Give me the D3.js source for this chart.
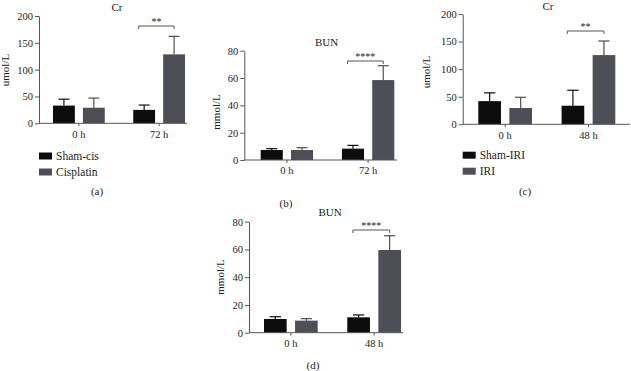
<!DOCTYPE html>
<html>
<head>
<meta charset="utf-8">
<script src="https://cdn.jsdelivr.net/npm/d3@7"></script>
<style>
  body { margin: 0; background: #fff; }
  svg text { font-family: "Liberation Serif", "DejaVu Serif", serif; fill: #222; }
  .axis path, .axis line { stroke: #555; }
</style>
</head>
<body>
<svg id="chart" width="631" height="371"></svg>
<script>
// Data (mean and upper error)
const cisGroups = ["0 h", "72 h"];
const iriGroups = ["0 h", "48 h"];

const crShamCis = [33, 25];
const crShamCisErr = [12, 9];
const crCisplatin = [29, 128.5];
const crCisplatinErr = [18, 33.5];

const bunShamCis = [7.3, 8.3];
const bunShamCisErr = [1, 2.4];
const bunCisplatin = [7.3, 58.5];
const bunCisplatinErr = [1.7, 10.5];

const crShamIri = [42, 33.7];
const crShamIriErr = [15, 28];
const crIri = [29.5, 125.5];
const crIriErr = [19.5, 25.5];

const bunShamIri = [9.9, 11.1];
const bunShamIriErr = [1.6, 1.7];
const bunIri = [8.7, 59.6];
const bunIriErr = [1.4, 10.3];

const crTicks = [0, 50, 100, 150, 200];
const bunTicks = [0, 20, 40, 60, 80];

const colors = ["#0c0c0c", "#4e4f56"];
const svg = d3.select("#chart");

// Panel layout: axis position, bar span and text spots
const panels = [
  { title: "Cr", yLabel: "umol/L", groups: cisGroups, ticks: crTicks, max: 200,
    series: [[crShamCis, crShamCisErr], [crCisplatin, crCisplatinErr]],
    axisX: 39, axisEnd: 187, bars: [53, 185], y0: 123.3, yTop: 16,
    titleX: 117, titleY: 11, yLabelX: 9, yLabelY: 70, stars: "**", bracketY: 26,
    legend: ["Sham-cis", "Cisplatin"], legendY: 152.5, tag: "(a)", tagX: 97, tagY: 195 },
  { title: "BUN", yLabel: "mmol/L", groups: cisGroups, ticks: bunTicks, max: 80,
    series: [[bunShamCis, bunShamCisErr], [bunCisplatin, bunCisplatinErr]],
    axisX: 244.3, axisEnd: 397, bars: [260.7, 394.3], y0: 160, yTop: 50.7,
    titleX: 326.5, titleY: 46, yLabelX: 220, yLabelY: 112, stars: "****", bracketY: 61,
    legend: null, tag: "(b)", tagX: 286, tagY: 207 },
  { title: "Cr", yLabel: "umol/L", groups: iriGroups, ticks: crTicks, max: 200,
    series: [[crShamIri, crShamIriErr], [crIri, crIriErr]],
    axisX: 462.7, axisEnd: 630, bars: [478.3, 615.3], y0: 124.3, yTop: 14,
    titleX: 548, titleY: 10, yLabelX: 430, yLabelY: 72, stars: "**", bracketY: 31,
    legend: ["Sham-IRI", "IRI"], legendY: 151.7, tag: "(c)", tagX: 525, tagY: 195 },
  { title: "BUN", yLabel: "mmol/L", groups: iriGroups, ticks: bunTicks, max: 80,
    series: [[bunShamIri, bunShamIriErr], [bunIri, bunIriErr]],
    axisX: 249, axisEnd: 403, bars: [264, 401], y0: 332.7, yTop: 221.7,
    titleX: 330, titleY: 216, yLabelX: 224, yLabelY: 277, stars: "****", bracketY: 230,
    legend: null, tag: "(d)", tagX: 313, tagY: 369 }
];

panels.forEach(p => {
  const g = svg.append("g");
  const y = d3.scaleLinear().domain([0, p.max]).range([p.y0, p.yTop]);
  const x = d3.scaleBand().domain(p.groups).range(p.bars).paddingInner(0.355).paddingOuter(0);
  const xs = d3.scaleBand().domain([0, 1]).range([0, x.bandwidth()]).paddingInner(0.27);

  // bars and error whiskers
  p.series.forEach(([vals, errs], si) => {
    p.groups.forEach((grp, gi) => {
      const bx = x(grp) + xs(si);
      const bw = xs.bandwidth();
      const cx = bx + bw / 2;
      const top = y(vals[gi] + errs[gi]);
      g.append("line").attr("x1", cx).attr("x2", cx)
        .attr("y1", y(vals[gi])).attr("y2", top)
        .attr("stroke", colors[si]).attr("stroke-width", 1.2);
      g.append("line").attr("x1", cx - bw / 4).attr("x2", cx + bw / 4)
        .attr("y1", top).attr("y2", top)
        .attr("stroke", colors[si]).attr("stroke-width", 1.2);
      g.append("rect").attr("x", bx).attr("y", y(vals[gi]))
        .attr("width", bw).attr("height", y(0) - y(vals[gi]))
        .attr("fill", colors[si]);
    });
  });

  // y axis
  const yAxis = g.append("g").attr("class", "axis")
    .attr("transform", `translate(${p.axisX},0)`)
    .call(d3.axisLeft(y).tickValues(p.ticks).tickSize(4).tickSizeOuter(0).tickPadding(2));
  yAxis.selectAll("text").style("font-size", "10.5px").attr("fill", "#222");

  // x axis
  const xAxis = g.append("g").attr("class", "axis")
    .attr("transform", `translate(0,${p.y0})`)
    .call(d3.axisBottom(x).tickSize(3).tickPadding(4));
  xAxis.select(".domain").remove();
  xAxis.selectAll("text").style("font-size", "10.5px").attr("fill", "#222");
  g.append("line").attr("x1", p.axisX).attr("x2", p.axisEnd)
    .attr("y1", p.y0).attr("y2", p.y0).attr("stroke", "#555");

  // significance bracket on the second group
  const g2 = p.groups[1];
  const bw = xs.bandwidth();
  const bl = x(g2) + xs(0) + bw * 0.25;
  const br = x(g2) + xs(1) + bw / 2;
  g.append("path")
    .attr("d", `M${bl},${p.bracketY + 3}V${p.bracketY}H${br}V${p.bracketY + 3}`)
    .attr("fill", "none").attr("stroke", "#555").attr("stroke-width", 1);
  g.append("text").attr("x", (bl + br) / 2).attr("y", p.bracketY - 1)
    .attr("text-anchor", "middle").style("font-size", "10px").attr("fill", "#555")
    .text(p.stars);

  // title, axis label and panel tag
  g.append("text").attr("x", p.titleX).attr("y", p.titleY)
    .attr("text-anchor", "middle").style("font-size", "11px").text(p.title);
  g.append("text")
    .attr("transform", `translate(${p.yLabelX},${p.yLabelY}) rotate(-90)`)
    .attr("text-anchor", "middle").style("font-size", "11px").text(p.yLabel);
  g.append("text").attr("x", p.tagX).attr("y", p.tagY)
    .attr("text-anchor", "middle").style("font-size", "11px").text(p.tag);

  // legend
  if (p.legend) {
    p.legend.forEach((name, i) => {
      const ly = p.legendY + i * 16;
      g.append("rect").attr("x", p.axisX).attr("y", ly)
        .attr("width", 13).attr("height", 7).attr("fill", colors[i]);
      g.append("text").attr("x", p.axisX + 17).attr("y", ly + 7.5)
        .style("font-size", "11.5px").text(name);
    });
  }
});
</script>
</body>
</html>
